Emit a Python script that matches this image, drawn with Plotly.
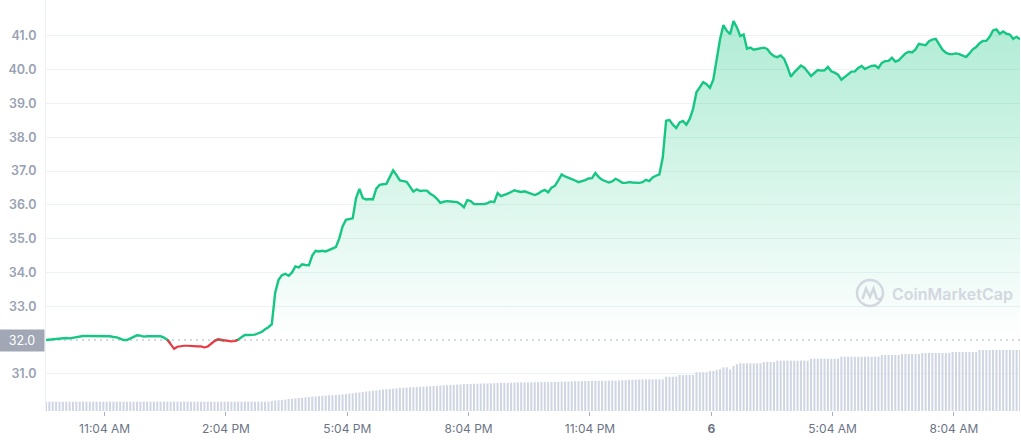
import plotly.graph_objects as go
import pandas as pd

# ---------------- data ----------------
start_time = "2023-03-05 09:37"
step = "5min"
open_price = 32.0

price = [
    32.00, 32.01, 32.02, 32.03, 32.06, 32.07, 32.06, 32.05, 32.07, 32.10,
    32.12, 32.12, 32.12, 32.12, 32.12, 32.12, 32.12, 32.12, 32.12, 32.11,
    32.09, 32.08, 32.04, 32.00, 32.00, 32.05, 32.09, 32.14, 32.13, 32.10,
    32.11, 32.11, 32.12, 32.12, 32.11, 32.07, 32.01, 31.89, 31.74, 31.80,
    31.82, 31.83, 31.83, 31.82, 31.80, 31.81, 31.81, 31.78, 31.81, 31.89,
    31.97, 32.02, 32.00, 31.98, 31.97, 31.96, 31.97, 32.01, 32.08, 32.15,
    32.15, 32.15, 32.16, 32.20, 32.24, 32.32, 32.38, 32.47, 33.40, 33.78,
    33.92, 33.96, 33.90, 34.00, 34.18, 34.15, 34.24, 34.22, 34.21, 34.50,
    34.64, 34.62, 34.64, 34.62, 34.66, 34.69, 34.75, 35.00, 35.36, 35.56,
    35.58, 35.60, 36.20, 36.47, 36.20, 36.16, 36.17, 36.16, 36.48, 36.59,
    36.61, 36.62, 36.82, 37.02, 36.88, 36.72, 36.70, 36.68, 36.54, 36.39,
    36.46, 36.41, 36.42, 36.42, 36.33, 36.27, 36.18, 36.06, 36.09, 36.11,
    36.10, 36.10, 36.08, 36.02, 35.93, 36.14, 36.11, 36.02, 36.02, 36.03,
    36.02, 36.05, 36.10, 36.08, 36.35, 36.26, 36.29, 36.33, 36.38, 36.43,
    36.40, 36.38, 36.40, 36.37, 36.32, 36.29, 36.33, 36.40, 36.44, 36.37,
    36.51, 36.56, 36.72, 36.90, 36.84, 36.80, 36.78, 36.72, 36.67, 36.69,
    36.73, 36.78, 36.79, 36.94, 36.82, 36.74, 36.69, 36.66, 36.69, 36.77,
    36.72, 36.65, 36.65, 36.67, 36.66, 36.65, 36.65, 36.67, 36.74, 36.70,
    36.81, 36.86, 36.90, 37.40, 38.49, 38.51, 38.37, 38.27, 38.44, 38.48,
    38.37, 38.54, 38.84, 39.33, 39.50, 39.63, 39.57, 39.46, 39.70, 40.25,
    40.90, 41.32, 41.15, 41.05, 41.44, 41.25, 40.99, 41.04, 40.62, 40.65,
    40.59, 40.61, 40.64, 40.65, 40.61, 40.48, 40.40, 40.37, 40.42, 40.32,
    40.08, 39.79, 39.92, 40.03, 40.12, 40.06, 39.94, 39.81, 39.90, 39.99,
    39.97, 39.98, 40.08, 39.95, 39.91, 39.85, 39.70, 39.78, 39.88, 39.94,
    39.95, 40.05, 40.11, 40.02, 40.07, 40.11, 40.12, 40.05, 40.20, 40.25,
    40.26, 40.35, 40.24, 40.27, 40.38, 40.48, 40.53, 40.51, 40.60, 40.76,
    40.74, 40.72, 40.84, 40.89, 40.91, 40.73, 40.59, 40.50, 40.46, 40.46,
    40.48, 40.46, 40.42, 40.37, 40.48, 40.60, 40.67, 40.78, 40.85, 40.85,
    40.97, 41.16, 41.19, 41.06, 41.13, 41.06, 41.04, 40.91, 40.97, 40.90,
]

volume_m = [
    93, 93, 93, 93, 93, 93, 93, 93, 93, 93,
    93, 93, 93, 93, 93, 93, 93, 93, 93, 93,
    93, 93, 93, 93, 93, 93, 93, 93, 93, 93,
    93, 93, 93, 93, 93, 93, 93, 93, 93, 93,
    93, 93, 93, 93, 93, 93, 93, 93, 93, 93,
    93, 93, 93, 93, 93, 93, 93, 93, 93, 93,
    93, 93, 93, 93, 93, 93, 93, 100, 105, 108,
    110, 115, 120, 123, 127, 130, 133, 137, 140, 143,
    145, 148, 152, 155, 157, 158, 160, 163, 166, 170,
    175, 178, 182, 185, 190, 195, 198, 202, 206, 210,
    215, 218, 220, 223, 226, 230, 232, 234, 236, 238,
    240, 242, 244, 246, 248, 250, 252, 254, 256, 258,
    260, 262, 264, 266, 268, 270, 271, 272, 273, 274,
    275, 276, 277, 278, 279, 280, 281, 282, 283, 284,
    285, 285, 286, 286, 287, 287, 288, 288, 289, 289,
    290, 291, 292, 293, 294, 295, 296, 297, 298, 299,
    300, 300, 301, 301, 302, 302, 303, 303, 304, 304,
    305, 307, 309, 311, 313, 314, 315, 316, 317, 317,
    317, 317, 317, 317, 343, 343, 343, 343, 360, 360,
    360, 360, 360, 387, 387, 387, 387, 400, 400, 410,
    417, 437, 437, 417, 450, 467, 477, 477, 477, 477,
    477, 477, 477, 490, 490, 490, 490, 503, 503, 503,
    503, 503, 503, 503, 503, 503, 503, 523, 523, 523,
    523, 523, 523, 523, 523, 523, 543, 543, 543, 543,
    543, 543, 543, 543, 543, 543, 543, 543, 560, 560,
    560, 560, 560, 560, 570, 570, 570, 570, 570, 570,
    580, 580, 580, 580, 580, 580, 580, 580, 580, 590,
    590, 590, 590, 590, 590, 590, 590, 610, 610, 610,
    610, 610, 610, 610, 610, 610, 610, 610, 610, 610,
]

y_ticks = [31.0, 33.0, 34.0, 35.0, 36.0, 37.0, 38.0, 39.0, 40.0, 41.0]
x_tick_times = ["2023-03-05 11:04", "2023-03-05 14:04", "2023-03-05 17:04",
                "2023-03-05 20:04", "2023-03-05 23:04", "2023-03-06 02:04",
                "2023-03-06 05:04", "2023-03-06 08:04"]
x_tick_text = ["11:04 AM", "2:04 PM", "5:04 PM", "8:04 PM", "11:04 PM",
               "<b>6</b>", "5:04 AM", "8:04 AM"]

# ---------------- build ----------------
n = len(price)
assert len(volume_m) == n, (len(volume_m), n)
times = pd.date_range(start_time, periods=n, freq=step)

GREEN = "#16c784"
RED = "#ea3943"

below = [p < open_price for p in price]
green_y = [price[i] if (not below[i]) or (i > 0 and not below[i - 1]) or (i < n - 1 and not below[i + 1]) else None
           for i in range(n)]
red_y = [price[i] if below[i] or (i > 0 and below[i - 1]) or (i < n - 1 and below[i + 1]) else None
         for i in range(n)]

fig = go.Figure()

fig.add_trace(go.Bar(x=times, y=volume_m, yaxis="y2", marker=dict(color="#cfd5e2", line=dict(width=0)),
                     hoverinfo="skip", showlegend=False))

fig.add_trace(go.Scatter(x=times, y=[open_price] * n, mode="lines", line=dict(width=0, color=GREEN),
                         hoverinfo="skip", showlegend=False))
fig.add_trace(go.Scatter(
    x=times, y=price, mode="lines", line=dict(width=0, color=GREEN), fill="tonexty",
    fillgradient=dict(type="vertical", start=open_price, stop=max(price),
                      colorscale=[[0, "rgba(22,199,132,0.0)"], [1, "rgba(22,199,132,0.34)"]]),
    hoverinfo="skip", showlegend=False))

fig.add_trace(go.Scatter(x=times, y=green_y, mode="lines", line=dict(width=2.4, color=GREEN),
                         connectgaps=False, showlegend=False))
fig.add_trace(go.Scatter(x=times, y=red_y, mode="lines", line=dict(width=2.2, color=RED),
                         connectgaps=False, showlegend=False))

# pixel helpers for the decorative logo (layout positions only)
L, T, W, H = 46, 0, 974, 411
def px(xp):
    return (xp - L) / W
def py(yp):
    return (T + H - yp) / H

wm_color = "#d3d7df"

fig.update_layout(
    width=1021, height=440,
    margin=dict(l=L, r=1021 - L - W, t=T, b=440 - T - H),
    paper_bgcolor="white", plot_bgcolor="white",
    showlegend=False, bargap=0.4,
    xaxis=dict(type="date", range=[times[0], times[-1]],
               tickvals=x_tick_times, ticktext=x_tick_text,
               showgrid=False, zeroline=False, showline=False,
               ticks="outside", ticklen=4, tickcolor="#a6b0c3", tickwidth=1,
               ticklabelstandoff=3,
               tickfont=dict(family="Inter", size=12, color="#6b7486")),
    yaxis=dict(range=[29.9, 42.06], tickvals=y_ticks,
               ticktext=[f"{v:.1f}" for v in y_ticks],
               showgrid=True, gridcolor="#eff2f5", gridwidth=1,
               zeroline=False, showline=True, linecolor="#eff2f5", linewidth=1,
               ticks="", ticklabelstandoff=6,
               tickfont=dict(family="Inter", size=12.5, color="#98a1b3", weight=600)),
    yaxis2=dict(overlaying="y", range=[0, 4110], visible=False),
    shapes=[
        dict(type="line", xref="paper", x0=0, x1=1, yref="y", y0=open_price, y1=open_price,
             line=dict(color="#a6b0c3", width=1, dash="2px,4px"), layer="below"),
        dict(type="circle", xref="paper", yref="paper",
             x0=px(857), x1=px(883), y0=py(306), y1=py(280),
             line=dict(color=wm_color, width=2.5)),
        dict(type="path", xref="paper", yref="paper",
             path=(f"M {px(862.5)} {py(299)} L {px(866)} {py(288.5)} L {px(870)} {py(297)} "
                   f"L {px(873.5)} {py(288.5)} L {px(876.5)} {py(298)} Q {px(879)} {py(301)} {px(882)} {py(297)}"),
             line=dict(color=wm_color, width=2.5)),
    ],
    annotations=[
        dict(text="32.0", xref="paper", x=0, xanchor="right", xshift=-1,
             yref="y", y=open_price, yanchor="middle",
             showarrow=False, bgcolor="#a1a7b5", width=42, height=19, borderpad=1,
             align="center", font=dict(family="Inter", size=12.5, color="white")),
        dict(text="CoinMarketCap", xref="paper", x=px(890), xanchor="left",
             yref="paper", y=py(294), yanchor="middle", showarrow=False,
             font=dict(family="Inter", size=16, color=wm_color, weight=600)),
    ],
)

fig.write_html("out.html", config={"displayModeBar": False},
               post_script="document.body.style.margin='0';document.body.style.padding='0';document.body.style.overflow='hidden';")
